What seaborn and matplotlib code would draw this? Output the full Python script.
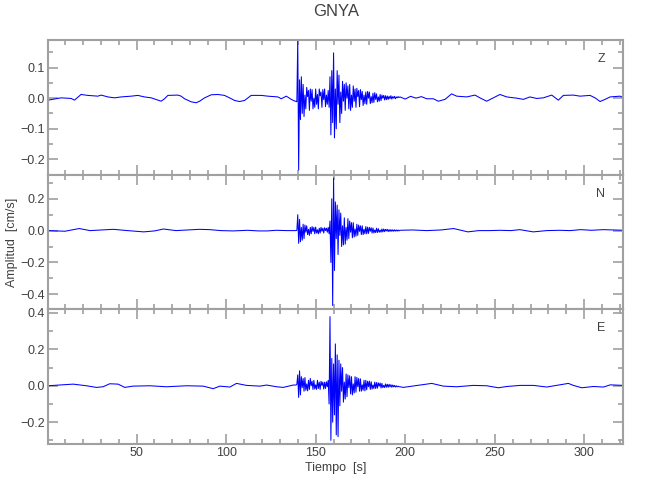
import numpy as np
import matplotlib
matplotlib.use('Agg')
import matplotlib.pyplot as plt
from matplotlib.ticker import MultipleLocator
import seaborn as sns

# estacion GNYA, componentes Z / N / E, amplitud en cm/s
# tramo antes del evento (tiempos irregulares)
z_pre_t = [0.6, 7.9, 13.5, 15.3, 19.0, 22.8, 28.4, 30.2, 34.0, 37.7,
           41.4, 47.0, 50.7, 54.4, 58.2, 61.9, 63.7, 65.6, 67.5, 73.0,
           74.9, 76.8, 80.5, 83.3, 85.2, 88.0, 91.7, 95.4, 99.1, 101.9,
           104.7, 107.5, 110.3, 112.2, 114.0, 119.6, 123.3, 128.9, 130.8, 133.6,
           136.4, 138.5]
z_pre_v = [-0.0065, 0.001, -0.001, -0.0065, 0.012, 0.009, 0.0065, 0.010, 0.004, 0.001,
           0.004, 0.0065, 0.009, 0.004, 0.001, -0.0065, -0.010, -0.002, 0.009, 0.010,
           0.0065, -0.002, -0.012, -0.015, -0.010, 0.001, 0.011, 0.012, 0.009, 0.001,
           -0.0075, -0.011, -0.0075, 0.001, 0.009, 0.009, 0.0065, 0.004, -0.002, 0.0065,
           -0.004, -0.010]

n_pre_t = [1, 10, 18, 24, 31, 37, 45, 54, 60, 65, 72, 79, 85, 91, 97, 104,
           112, 118, 123, 128, 134, 138.5]
n_pre_v = [0.0, -0.004, 0.013, 0.0, 0.004, 0.008, 0.0, -0.008, -0.002, 0.010, 0.0,
           0.004, 0.008, 0.006, 0.0, -0.002, 0.002, -0.002, -0.002, 0.002, 0.0, 0.0]

e_pre_t = [0.6, 10.9, 14.6, 22.0, 27.6, 31.3, 35.0, 39.7, 43.4, 48.0, 57.4, 66.7,
           77.9, 87.2, 92.8, 96.5, 102.1, 105.8, 111.4, 118.9, 122.6, 128.2, 131.9, 137.5]
e_pre_v = [0.0, 0.007, 0.009, 0.0, -0.009, -0.0055, 0.011, 0.009, -0.009, -0.002, 0.0, -0.0055,
           0.0, -0.002, -0.016, -0.002, -0.007, 0.013, 0.002, -0.002, 0.004, -0.0055, -0.009, 0.004]

# llegada de ondas: una muestra cada 0.5 s desde t = 139 s
t_burst0 = 139.0
dt_burst = 0.5
z_burst = [
    -0.010, -0.012, 0.19, -0.235, 0.06, -0.07, 0.07, -0.05, 0.045, -0.06,
    0.01, -0.035, 0.035, 0.005, 0.025, -0.04, 0.03, -0.01, 0.028, -0.035,
    0.0, -0.03, 0.03, -0.02, 0.012, -0.035, 0.03, 0.008, 0.02, -0.03,
    0.028, -0.005, 0.03, -0.028, 0.01, -0.02, 0.025, -0.03, 0.07, -0.12,
    0.09, -0.08, 0.148, -0.13, 0.03, -0.1, 0.09, -0.02, 0.075, -0.08,
    0.02, -0.05, 0.055, -0.01, 0.045, -0.04, 0.05, 0.0, 0.04, -0.035,
    0.045, -0.04, 0.01, -0.03, 0.04, -0.01, 0.03, -0.03, 0.032, 0.005,
    0.025, -0.028, 0.028, -0.005, 0.022, -0.024, 0.01, -0.018, 0.02, -0.02,
    0.022, 0.0, 0.02, -0.018, 0.005, -0.015, 0.016, -0.014, 0.018, -0.004,
    0.014, -0.012, 0.004, -0.01, 0.012, -0.008, 0.01, 0.0, 0.009, -0.006,
    0.008, -0.005, 0.007, -0.004, 0.006, -0.002, 0.008, -0.003, 0.005, 0.0,
    0.006, -0.002, 0.004, 0.001, 0.005, 0.002]
n_burst = [
    0.0, 0.002, 0.10, -0.08, 0.07, -0.07, 0.02, -0.06, 0.04, -0.05,
    0.035, -0.01, 0.03, -0.025, 0.008, -0.03, 0.02, -0.02, 0.025, -0.005,
    0.02, -0.02, 0.022, -0.015, 0.005, -0.02, 0.015, -0.015, 0.02, -0.004,
    0.015, -0.015, 0.018, 0.0, 0.015, -0.01, 0.02, -0.02, 0.06, -0.2,
    0.2, -0.47, 0.33, -0.25, 0.18, -0.05, 0.16, -0.15, 0.13, -0.03,
    0.11, -0.1, 0.03, -0.09, 0.08, -0.085, 0.02, -0.06, 0.075, -0.05,
    0.06, -0.01, 0.05, -0.045, 0.05, -0.04, 0.01, -0.035, 0.04, -0.03,
    0.035, -0.005, 0.03, -0.025, 0.03, -0.025, 0.008, -0.02, 0.025, -0.02,
    0.022, -0.018, 0.02, -0.004, 0.018, -0.015, 0.016, -0.015, 0.004, -0.012,
    0.015, -0.012, 0.012, -0.01, 0.003, -0.01, 0.01, -0.008, 0.01, -0.007,
    0.008, -0.002, 0.008, -0.006, 0.006, -0.005, 0.006, -0.004, 0.005, -0.004,
    0.005, -0.003, 0.004, -0.003, 0.004, -0.002]
e_burst = [
    0.004, 0.008, 0.06, -0.064, 0.082, -0.05, 0.05, -0.01, 0.04, -0.03,
    0.045, -0.025, 0.01, -0.028, 0.03, -0.02, 0.04, 0.0, 0.025, -0.02,
    0.03, -0.018, 0.005, -0.02, 0.03, -0.015, 0.02, -0.02, 0.025, 0.002,
    0.02, -0.018, 0.02, -0.015, 0.022, -0.005, 0.03, -0.1, 0.38, -0.3,
    0.15, -0.2, 0.12, -0.16, 0.23, -0.27, 0.17, -0.28, 0.14, -0.11,
    0.12, -0.03, 0.1, -0.09, 0.02, -0.073, 0.065, -0.06, 0.06, -0.01,
    0.055, -0.045, 0.05, -0.05, 0.01, -0.04, 0.05, -0.035, 0.046, -0.005,
    0.04, -0.03, 0.038, -0.03, 0.005, -0.025, 0.03, -0.028, 0.03, -0.022,
    0.025, -0.005, 0.025, -0.02, 0.022, -0.018, 0.004, -0.015, 0.02, -0.015,
    0.018, -0.013, 0.016, -0.002, 0.015, -0.012, 0.013, -0.01, 0.002, -0.01,
    0.01, -0.008, 0.008, -0.008, 0.008, -0.006, 0.006, -0.008, 0.004, -0.006,
    0.002, -0.007, 0.0, -0.006, -0.002, -0.005]

# tramo despues del evento
z_post_t = [197.1, 200, 203, 206, 209, 212, 215.7, 218.5, 222.2, 225.9,
            228.7, 234.3, 239.0, 241.7, 245.5, 249.2, 252.9, 256.7, 262.2, 266.0,
            269.6, 273.4, 277.1, 281.8, 285.5, 288.3, 293.9, 297.6, 303.2, 306.0,
            308.8, 311.6, 314.4, 320.0, 322.0]
z_post_v = [0.004, -0.003, 0.006, 0.0, 0.005, -0.002, -0.002, -0.010, -0.004, 0.014,
            0.0065, 0.004, 0.010, 0.001, -0.010, 0.001, 0.012, 0.004, 0.0, -0.004,
            0.004, -0.001, 0.001, 0.010, -0.0065, 0.009, 0.010, 0.0065, 0.009, 0.001,
            -0.011, -0.004, 0.004, 0.0065, 0.001]

n_post_t = [197, 204, 212, 220, 227, 235, 241, 247, 253, 259, 264, 271.5,
            279, 286, 292, 298, 304, 310.5, 316, 322]
n_post_v = [0.002, 0.004, 0.0, 0.004, 0.013, -0.008, 0.0, 0.0, 0.002, 0.0, 0.006, -0.008,
            0.0, 0.002, 0.0, 0.006, 0.002, 0.006, 0.004, 0.002]

e_post_t = [197.5, 198.9, 208.2, 214.8, 221.3, 228.7, 238.0, 245.5, 252.0, 256.7, 264.1,
            271.6, 279.0, 284.6, 291.1, 293.9, 298.6, 305.1, 310.7, 314.5, 322.0]
e_post_v = [-0.006, -0.009, 0.004, 0.013, -0.002, -0.0055, 0.002, 0.0, -0.011, -0.004, 0.002,
            0.002, -0.007, 0.002, 0.013, 0.002, -0.011, -0.004, -0.007, 0.005, 0.002]

componentes = ['Z', 'N', 'E']
limites_y = [(-0.25, 0.19), (-0.494, 0.351), (-0.32, 0.42)]
ticks_y = [[-0.2, -0.1, 0.0, 0.1], [-0.4, -0.2, 0.0, 0.2], [-0.2, 0.0, 0.2, 0.4]]
minor_y = [0.05, 0.1, 0.1]


def armar_traza(pre_t, pre_v, burst, post_t, post_v):
    tb = t_burst0 + dt_burst * np.arange(len(burst))
    t = np.concatenate([pre_t, tb, post_t])
    v = np.concatenate([pre_v, burst, post_v])
    return t, v


trazas = [
    armar_traza(z_pre_t, z_pre_v, z_burst, z_post_t, z_post_v),
    armar_traza(n_pre_t, n_pre_v, n_burst, n_post_t, n_post_v),
    armar_traza(e_pre_t, e_pre_v, e_burst, e_post_t, e_post_v),
]

sns.set_style('ticks')
plt.rcParams['font.family'] = ['Liberation Sans', 'DejaVu Sans']
gris = '#a0a0a0'
texto = '#404040'

fig, axes = plt.subplots(3, 1, figsize=(6.5, 5), dpi=100, sharex=True)
fig.subplots_adjust(left=0.074, right=0.959, top=0.92, bottom=0.112, hspace=0)

for ax, comp, (t, v), lim, yt, ym in zip(axes, componentes, trazas, limites_y, ticks_y, minor_y):
    sns.lineplot(x=t, y=v, ax=ax, color='#0000ff', linewidth=0.75,
                 estimator=None, sort=False, legend=False)
    ax.set_xlim(0.6, 321.8)
    ax.set_ylim(*lim)
    ax.set_yticks(yt)
    ax.yaxis.set_minor_locator(MultipleLocator(ym))
    ax.xaxis.set_major_locator(MultipleLocator(50))
    ax.xaxis.set_minor_locator(MultipleLocator(10))
    ax.tick_params(which='both', direction='in', top=True, right=True,
                   color=gris, labelcolor=texto, labelsize=9, width=1.2, pad=2)
    ax.tick_params(which='major', length=7)
    ax.tick_params(which='minor', length=3.5)
    for sp in ax.spines.values():
        sp.set_color(gris)
        sp.set_linewidth(1.5)
    ax.set_xlabel('')
    ax.set_ylabel('')
    ax.text(0.968, 0.86, comp, transform=ax.transAxes, ha='right', va='center',
            color=texto, fontsize=9)

fig.text(0.517, 0.976, 'GNYA', ha='center', va='center', color=texto, fontsize=12)
fig.text(0.517, 0.064, 'Tiempo  [s]', ha='center', va='center', color=texto, fontsize=9)
fig.text(0.018, 0.516, 'Amplitud  [cm/s]', ha='center', va='center', rotation=90,
         color=texto, fontsize=9)

plt.savefig('out.png', dpi=100)
